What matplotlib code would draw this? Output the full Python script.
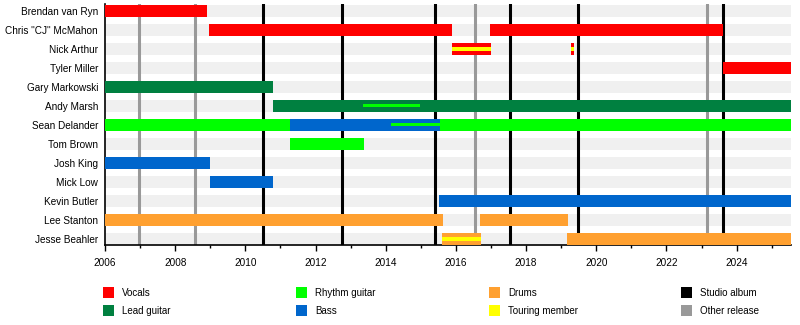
import matplotlib
matplotlib.use("Agg")
import matplotlib.pyplot as plt
from matplotlib.patches import Patch

plt.rcParams['font.family'] = ['Liberation Sans', 'DejaVu Sans']
plt.rcParams['font.size'] = 7.2

members = ["Brendan van Ryn", "Chris \"CJ\" McMahon", "Nick Arthur", "Tyler Miller",
           "Gary Markowski", "Andy Marsh", "Sean Delander", "Tom Brown", "Josh King",
           "Mick Low", "Kevin Butler", "Lee Stanton", "Jesse Beahler"]

start_year = 2006
end_year = 2025.55

# (member, start, end) for each role
vocals = [("Brendan van Ryn", 2006, 2008.9),
          ("Chris \"CJ\" McMahon", 2008.96, 2015.9),
          ("Chris \"CJ\" McMahon", 2016.97, 2023.6),
          ("Nick Arthur", 2015.88, 2017.0),
          ("Nick Arthur", 2019.28, 2019.36),
          ("Tyler Miller", 2023.6, end_year)]
lead_guitar = [("Gary Markowski", 2006, 2010.8),
               ("Andy Marsh", 2010.8, end_year)]
rhythm_guitar = [("Sean Delander", 2006, 2011.27),
                 ("Sean Delander", 2015.54, end_year),
                 ("Tom Brown", 2011.27, 2013.38)]
bass = [("Sean Delander", 2011.27, 2015.54),
        ("Josh King", 2006, 2009.0),
        ("Mick Low", 2009.0, 2010.8),
        ("Kevin Butler", 2015.52, end_year)]
drums = [("Lee Stanton", 2006, 2015.63),
         ("Lee Stanton", 2016.68, 2019.19),
         ("Jesse Beahler", 2015.6, 2016.71),
         ("Jesse Beahler", 2019.16, end_year)]
# secondary roles shown as a thin line inside the main bar
rhythm_thin = [("Andy Marsh", 2013.35, 2014.97),
               ("Sean Delander", 2014.15, 2015.54)]
touring = [("Nick Arthur", 2015.88, 2017.0),
           ("Nick Arthur", 2019.28, 2019.36),
           ("Jesse Beahler", 2015.6, 2016.71)]

studio_albums = [2010.5, 2012.75, 2015.4, 2017.54, 2019.48, 2023.6]
other_releases = [2006.97, 2008.56, 2016.54, 2023.15]

colors = {"Vocals": "#ff0000", "Lead guitar": "#008040", "Rhythm guitar": "#00ff00",
          "Bass": "#0066cc", "Drums": "#ffa030", "Touring member": "#ffff00",
          "Studio album": "#000000", "Other release": "#999999"}

bar_h = 0.63

fig = plt.figure(figsize=(8, 3.25), dpi=100)
ax = fig.add_axes([105/800, 1 - 245/325, (791 - 105)/800, (245 - 4)/325])

rows = {name: i for i, name in enumerate(members)}

# grey row bands
ax.barh(range(len(members)), end_year - start_year, left=start_year, height=bar_h,
        color="#f0f0f0", zorder=1)

for x in other_releases:
    ax.axvline(x, color=colors["Other release"], lw=2.2, zorder=2)
for x in studio_albums:
    ax.axvline(x, color=colors["Studio album"], lw=2.2, zorder=2)

def draw(spans, color, h=bar_h, z=3):
    for name, s, e in spans:
        ax.barh(rows[name], e - s, left=s, height=h, color=color, zorder=z, linewidth=0)

draw(vocals, colors["Vocals"])
draw(lead_guitar, colors["Lead guitar"])
draw(rhythm_guitar, colors["Rhythm guitar"])
draw(bass, colors["Bass"])
draw(drums, colors["Drums"])
draw(touring, colors["Touring member"], h=bar_h / 3, z=4)
draw(rhythm_thin, colors["Rhythm guitar"], h=bar_h / 4, z=4)

ax.set_xlim(start_year, end_year)
ax.set_ylim(12.32, -0.37)
ax.set_yticks(range(len(members)))
ax.set_yticklabels(members)
ax.tick_params(axis='y', length=0, pad=5)
ax.set_xticks(range(2006, 2026, 2))
ax.set_xticks(range(2006, 2026), minor=True)
ax.tick_params(axis='x', which='major', length=4, width=1, pad=5)
ax.tick_params(axis='x', which='minor', length=2, width=1)
for side in ["top", "right"]:
    ax.spines[side].set_visible(False)
ax.spines["left"].set_linewidth(1.2)
ax.spines["bottom"].set_linewidth(1.2)

legend_cols = [["Vocals", "Lead guitar"], ["Rhythm guitar", "Bass"],
               ["Drums", "Touring member"], ["Studio album", "Other release"]]
legend_x = [103, 296, 489, 681]
for col, lx in zip(legend_cols, legend_x):
    handles = [Patch(facecolor=colors[c], edgecolor="none", label=c) for c in col]
    fig.legend(handles=handles, loc="upper left", bbox_to_anchor=(lx/800, 1 - 287/325),
               frameon=False, handlelength=1.15, handleheight=1.35, handletextpad=0.85,
               labelspacing=0.75, borderpad=0, borderaxespad=0, fontsize=7)

fig.savefig("out.png", dpi=100)
